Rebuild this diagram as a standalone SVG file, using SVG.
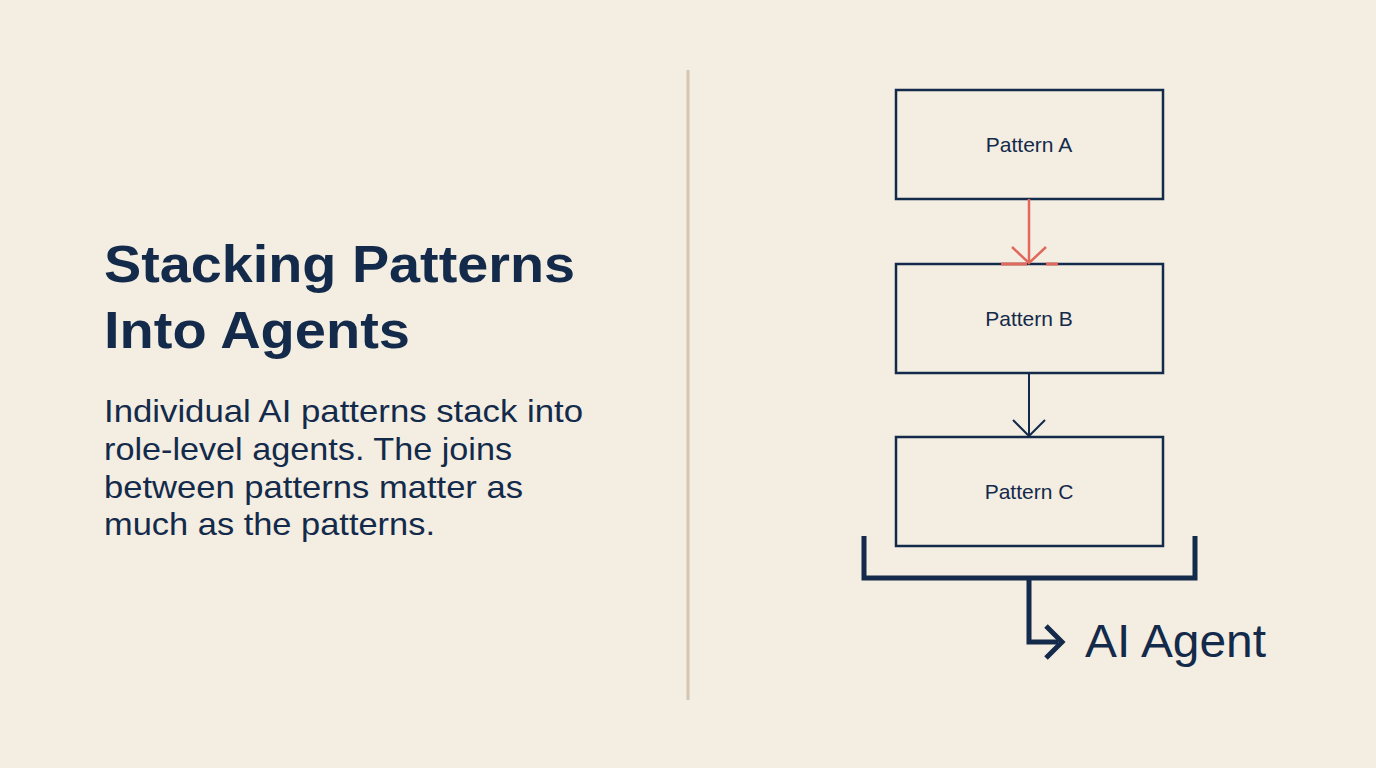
<svg xmlns="http://www.w3.org/2000/svg" width="1376" height="768" viewBox="0 0 1376 768">
<style>
.box{fill:none;stroke:#132a4a;stroke-width:2.5}
.lbl{font-family:"Liberation Sans",Arial,sans-serif;font-size:21px;fill:#132a4a;text-anchor:middle}
.t{font-family:"Liberation Sans",Arial,sans-serif;fill:#132a4a}
</style>
<rect width="1376" height="768" fill="#f3ede2"/>
<line x1="688" y1="70" x2="688" y2="700" stroke="#d3c6b3" stroke-width="3"/>
<text class="t" font-weight="bold" font-size="52" x="104" y="282" textLength="471" lengthAdjust="spacingAndGlyphs">Stacking Patterns</text>
<text class="t" font-weight="bold" font-size="52" x="104" y="348" textLength="306" lengthAdjust="spacingAndGlyphs">Into Agents</text>
<g class="t" font-size="32">
<text x="104" y="422" textLength="479" lengthAdjust="spacingAndGlyphs">Individual AI patterns stack into</text>
<text x="104" y="460" textLength="408" lengthAdjust="spacingAndGlyphs">role-level agents. The joins</text>
<text x="104" y="498" textLength="419" lengthAdjust="spacingAndGlyphs">between patterns matter as</text>
<text x="104" y="535" textLength="331" lengthAdjust="spacingAndGlyphs">much as the patterns.</text>
</g>
<g id="nodeA"><rect class="box" x="896" y="90" width="267" height="109"/><text class="lbl" x="1029" y="152">Pattern A</text></g>
<g id="nodeB"><rect class="box" x="896" y="264" width="267" height="109"/><text class="lbl" x="1029" y="326">Pattern B</text></g>
<g id="nodeC"><rect class="box" x="896" y="437" width="267" height="109"/><text class="lbl" x="1029" y="499">Pattern C</text></g>
<g id="agent"><text class="t" font-size="47" x="1085" y="657" textLength="181" lengthAdjust="spacingAndGlyphs">AI Agent</text></g>
<g id="connectors" fill="none">
<line x1="1001" y1="264" x2="1027" y2="264" stroke="#e2685c" stroke-width="3"/>
<line x1="1046" y1="264" x2="1058" y2="264" stroke="#e2685c" stroke-width="3"/>
<path d="M1029 199V263M1012 247L1029 263L1046 247" stroke="#e2685c" stroke-width="2.5"/>
<path d="M1029 373V436M1013 420L1029 436L1045 420" stroke="#132a4a" stroke-width="2"/>
<path d="M864 536V578H1195V536" stroke="#132a4a" stroke-width="5"/>
<path d="M1029 578V642H1058" stroke="#132a4a" stroke-width="5"/>
<path d="M1046 626L1062 642L1046 658" stroke="#132a4a" stroke-width="5"/>
</g>
</svg>
